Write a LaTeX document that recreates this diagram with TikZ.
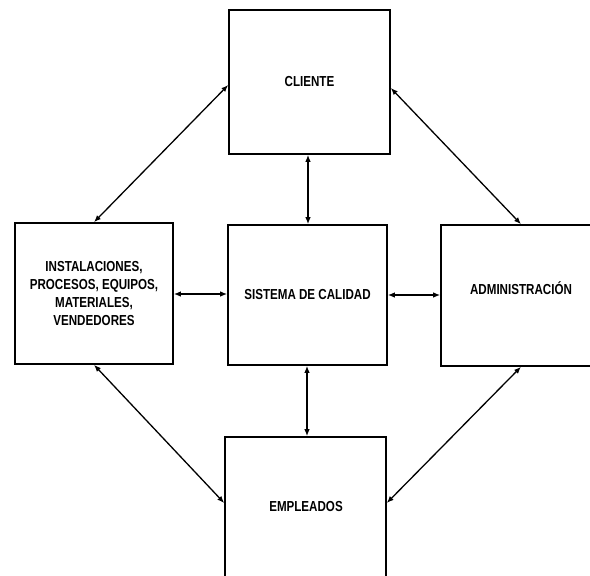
\documentclass[tikz,border=0pt]{standalone}
\usepackage{fontspec}
\usetikzlibrary{arrows.meta,calc}
\newfontfamily\lblfont[FakeStretch=0.8]{Liberation Sans}
\begin{document}
\begin{tikzpicture}[x=1pt,y=-1pt,
  lbl/.style={align=center,font=\lblfont\bfseries\fontsize{14.5}{18}\selectfont},
  box/.style={lbl,draw=black,line width=1.6pt,fill=white,rectangle,
    minimum width=159pt,minimum height=142pt,inner sep=0pt},
  link/.style={line width=1.3pt,
    {Latex[length=7pt,width=5.5pt]}-{Latex[length=7pt,width=5.5pt]}}]
  % page area; the outer boxes run past its edges
  \clip (0,0) rectangle (590,576);
  \fill[white] (0,0) rectangle (590,576);

  % boxes
  \node[box,minimum width=161pt,minimum height=144pt] (cli) at (309.5,82) {CLIENTE};
  \node[box,minimum width=158pt,minimum height=141pt] (inst) at (94,293.5)
    {INSTALACIONES,\\PROCESOS, EQUIPOS,\\MATERIALES,\\VENDEDORES};
  \node[box,minimum width=159pt,minimum height=140pt] (sis) at (307.5,295) {SISTEMA DE CALIDAD};
  \node[box,minimum width=160pt,minimum height=141pt] (adm) at (521,295.5) {};
  \node[lbl] (admt) at (521,288) {ADMINISTRACIÓN};
  \node[box,minimum width=161pt,minimum height=142pt] (emp) at (305.5,508) {};
  \node[lbl] (empt) at (306,507) {EMPLEADOS};

  % connectors
  \draw[link] (inst.north) -- ($(cli.west)+(0,3)$);
  \draw[link] ($(cli.east)+(0,6)$) -- (adm.north);
  \draw[link] (inst.south) -- ($(emp.west)+(0,-5)$);
  \draw[link] (adm.south) -- ($(emp.east)+(0,-5)$);
  \draw[link] (cli.south -| 308,0) -- (sis.north -| 308,0);
  \draw[link] (sis.south -| 307,0) -- (emp.north -| 307,0);
  \draw[link] (inst.east |- 0,294) -- (sis.west |- 0,294);
  \draw[link] (sis.east |- 0,295) -- (adm.west |- 0,295);
\end{tikzpicture}
\end{document}
